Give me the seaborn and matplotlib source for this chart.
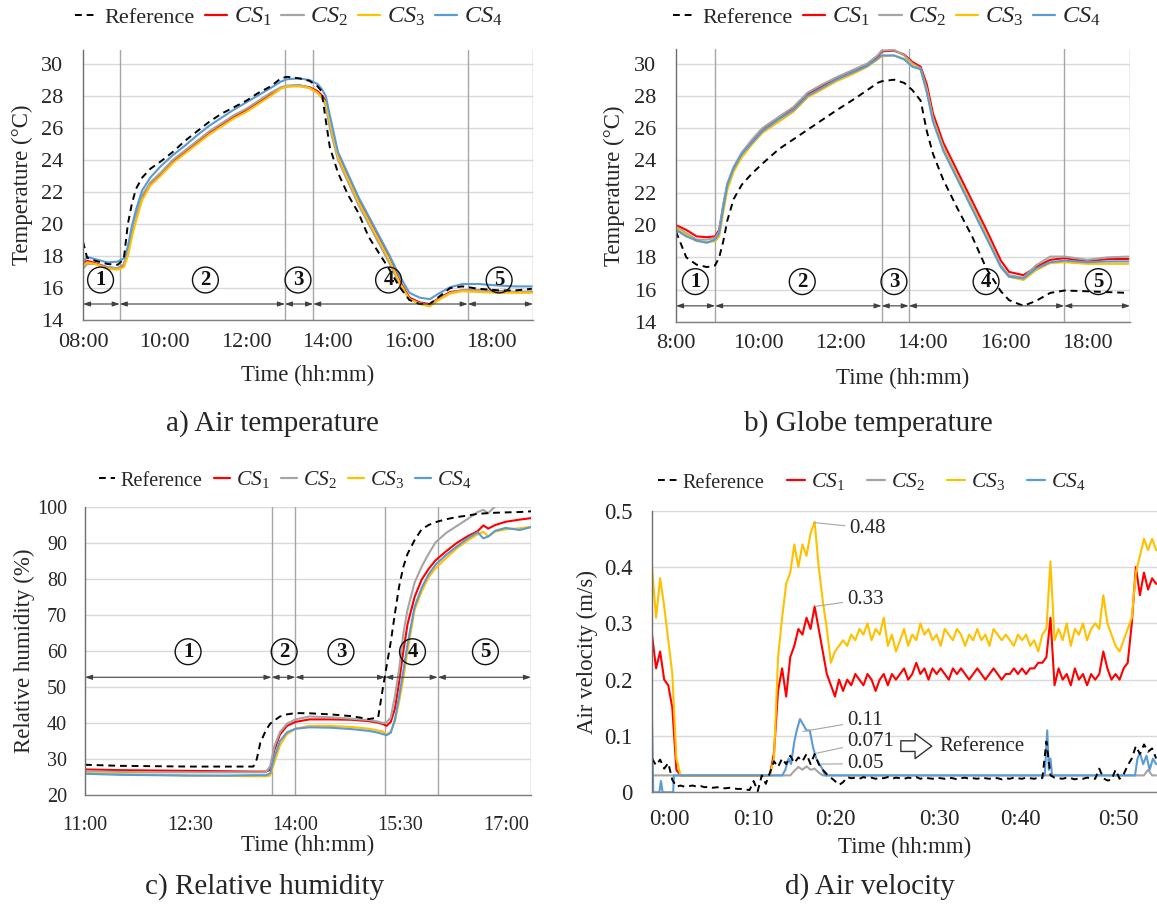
import numpy as np
import matplotlib
matplotlib.use('Agg')
import matplotlib.pyplot as plt
import seaborn as sns
from matplotlib.lines import Line2D

# ---------------- a) Air temperature (time in hours, degC)
a_time = [8.0, 8.1, 8.3, 8.6, 8.85, 9.0, 9.1, 9.2, 9.3, 9.45,
          9.65, 9.9, 10.2, 10.5, 10.8, 11.1, 11.4, 11.7, 12.0, 12.3,
          12.6, 12.85, 13.0, 13.3, 13.55, 13.75, 13.85, 13.95, 14.05, 14.25,
          14.5, 14.75, 15.0, 15.25, 15.5, 15.75, 16.0, 16.25, 16.5, 16.75,
          17.0, 17.3, 17.7, 18.2, 18.6, 19.0]
a_ref = [18.9, 17.9, 17.7, 17.5, 17.45, 17.8, 20.0, 21.3, 22.2, 22.9,
         23.45, 23.9, 24.5, 25.2, 25.8, 26.4, 26.9, 27.3, 27.7, 28.2,
         28.6, 29.1, 29.2, 29.1, 28.95, 28.6, 28.3, 26.5, 24.8, 23.2,
         21.8, 20.7, 19.2, 18.2, 17.2, 16.1, 15.25, 15.0, 15.0, 15.5,
         16.0, 16.1, 15.95, 15.85, 15.85, 15.95]
a_cs1 = [17.5, 17.7, 17.55, 17.3, 17.2, 17.4, 18.2, 19.4, 20.4, 21.7,
         22.5, 23.1, 23.9, 24.5, 25.1, 25.7, 26.2, 26.7, 27.1, 27.6,
         28.1, 28.5, 28.6, 28.65, 28.55, 28.3, 28.05, 27.7, 26.5, 24.3,
         22.9, 21.5, 20.3, 19.1, 17.9, 16.5, 15.4, 15.1, 15.0, 15.4,
         15.75, 15.85, 15.85, 15.8, 15.75, 15.75]
a_cs2 = [17.2, 17.5, 17.5, 17.3, 17.25, 17.5, 18.4, 19.6, 20.6, 21.8,
         22.6, 23.2, 24.0, 24.6, 25.2, 25.8, 26.3, 26.8, 27.2, 27.7,
         28.2, 28.55, 28.65, 28.7, 28.5, 28.2, 27.9, 27.4, 26.0, 24.0,
         22.6, 21.2, 20.0, 18.8, 17.6, 16.3, 15.3, 15.05, 14.95, 15.35,
         15.7, 15.85, 15.85, 15.8, 15.75, 15.8]
a_cs3 = [17.4, 17.6, 17.5, 17.2, 17.15, 17.3, 18.0, 19.2, 20.2, 21.5,
         22.4, 23.0, 23.8, 24.4, 25.0, 25.6, 26.1, 26.6, 27.0, 27.5,
         28.0, 28.45, 28.6, 28.6, 28.5, 28.2, 27.9, 27.6, 26.4, 24.2,
         22.8, 21.4, 20.2, 19.0, 17.8, 16.4, 15.3, 15.0, 14.85, 15.3,
         15.65, 15.8, 15.75, 15.7, 15.7, 15.7]
a_cs4 = [17.6, 17.95, 17.8, 17.6, 17.65, 17.85, 18.6, 19.9, 20.9, 22.1,
         22.9, 23.6, 24.3, 24.9, 25.55, 26.15, 26.65, 27.15, 27.6, 28.05,
         28.5, 28.9, 29.05, 29.1, 29.0, 28.75, 28.45, 28.0, 26.8, 24.5,
         23.1, 21.7, 20.5, 19.3, 18.1, 16.8, 15.7, 15.4, 15.3, 15.7,
         16.05, 16.25, 16.25, 16.15, 16.1, 16.1]
a_phases = [8.0, 8.9, 12.95, 13.64, 17.43, 19.03]
a_num_x = [8.43, 11.0, 13.27, 15.49, 18.2]

# ---------------- b) Globe temperature
b_time = [8.0, 8.25, 8.5, 8.75, 8.95, 9.05, 9.15, 9.25, 9.4, 9.6,
          9.85, 10.1, 10.5, 10.85, 11.2, 11.55, 11.9, 12.3, 12.65, 12.9,
          13.0, 13.3, 13.55, 13.75, 13.95, 14.1, 14.25, 14.5, 14.85, 15.2,
          15.55, 15.9, 16.1, 16.45, 16.75, 17.1, 17.45, 18.0, 18.5, 19.0]
b_ref = [19.6, 18.0, 17.55, 17.4, 17.5, 18.0, 19.0, 20.3, 21.6, 22.5,
         23.2, 23.8, 24.7, 25.3, 25.9, 26.5, 27.1, 27.75, 28.35, 28.8,
         28.9, 29.0, 28.8, 28.35, 27.7, 25.8, 24.4, 22.8, 21.0, 19.3,
         17.3, 15.9, 15.35, 15.0, 15.3, 15.8, 15.95, 15.9, 15.85, 15.8]
b_cs1 = [20.0, 19.7, 19.3, 19.25, 19.3, 19.7, 21.2, 22.5, 23.5, 24.4,
         25.2, 25.95, 26.65, 27.25, 28.1, 28.6, 29.1, 29.55, 29.95, 30.4,
         30.75, 30.8, 30.55, 30.1, 29.8, 28.7, 26.9, 25.1, 23.3, 21.5,
         19.7, 17.8, 17.1, 16.9, 17.4, 17.85, 17.95, 17.75, 17.9, 17.9]
b_cs2 = [19.9, 19.5, 19.1, 19.1, 19.2, 19.6, 21.3, 22.6, 23.6, 24.5,
         25.3, 26.0, 26.7, 27.3, 28.2, 28.7, 29.15, 29.6, 30.0, 30.5,
         30.8, 30.85, 30.5, 30.0, 29.7, 28.4, 26.6, 24.8, 23.0, 21.2,
         19.4, 17.5, 16.9, 16.75, 17.5, 18.05, 18.05, 17.85, 18.0, 18.05]
b_cs3 = [19.8, 19.4, 19.0, 18.95, 19.0, 19.3, 20.8, 22.2, 23.3, 24.2,
         25.0, 25.7, 26.4, 27.0, 27.9, 28.4, 28.9, 29.35, 29.8, 30.25,
         30.45, 30.5, 30.3, 29.9, 29.6, 28.3, 26.5, 24.7, 22.9, 21.1,
         19.3, 17.4, 16.8, 16.6, 17.2, 17.65, 17.7, 17.6, 17.6, 17.6]
b_cs4 = [19.7, 19.3, 19.05, 18.9, 19.1, 19.5, 21.1, 22.5, 23.5, 24.4,
         25.1, 25.8, 26.55, 27.1, 28.0, 28.5, 29.0, 29.45, 29.85, 30.3,
         30.5, 30.5, 30.25, 29.8, 29.65, 28.2, 26.4, 24.6, 22.8, 21.0,
         19.2, 17.4, 16.8, 16.7, 17.3, 17.7, 17.8, 17.7, 17.75, 17.75]
b_phases = [8.0, 8.95, 13.0, 13.66, 17.44, 19.04]
b_num_x = [8.47, 11.07, 13.3, 15.54, 18.27]

# ---------------- c) Relative humidity
c_time = [11.0, 11.5, 12.0, 12.5, 13.0, 13.4, 13.45, 13.5, 13.58, 13.64,
          13.7, 13.78, 13.88, 14.0, 14.2, 14.5, 14.8, 15.05, 15.18, 15.25,
          15.3, 15.36, 15.42, 15.48, 15.54, 15.6, 15.7, 15.8, 15.9, 16.0,
          16.15, 16.3, 16.45, 16.6, 16.68, 16.75, 16.85, 17.0, 17.2, 17.36]
c_ref = [28.4, 28.1, 28.0, 27.9, 27.9, 27.9, 30.0, 34.5, 38.0, 39.8,
         40.7, 41.8, 42.4, 42.75, 42.7, 42.4, 41.9, 41.1, 41.5, 50.0,
         55.7, 62.5, 70.5, 78.0, 83.4, 87.0, 90.8, 93.8, 95.0, 95.8,
         96.6, 97.2, 97.6, 98.1, 98.2, 98.3, 98.4, 98.5, 98.6, 98.8]
c_cs1 = [27.1, 26.9, 26.8, 26.7, 26.6, 26.5, 26.5, 26.5, 26.5, 27.0,
         32.5, 36.8, 39.2, 40.3, 41.0, 41.0, 40.9, 40.5, 40.1, 39.7,
         39.2, 40.3, 44.0, 51.5, 60.0, 67.5, 75.0, 79.8, 82.8, 85.2,
         87.7, 90.0, 91.8, 93.3, 94.9, 94.0, 95.0, 95.9, 96.5, 96.9]
c_cs2 = [26.6, 26.4, 26.3, 26.3, 26.3, 26.3, 26.3, 26.3, 26.3, 28.0,
         33.5, 37.5, 39.8, 41.0, 41.8, 41.6, 41.2, 40.8, 40.4, 40.0,
         40.2, 41.5, 47.5, 55.0, 64.9, 71.5, 79.0, 83.4, 87.0, 90.2,
         92.8, 94.7, 96.6, 98.6, 99.2, 98.3, 100.2, 100.5, 100.5, 100.5]
c_cs3 = [26.1, 25.8, 25.6, 25.4, 25.3, 25.2, 25.2, 25.2, 25.2, 25.4,
         29.0, 33.8, 36.9, 38.4, 39.2, 39.2, 38.9, 38.4, 37.9, 37.6,
         36.8, 37.6, 40.5, 46.0, 52.5, 60.0, 71.4, 76.5, 80.5, 83.0,
         85.8, 88.5, 90.6, 92.4, 93.1, 91.8, 93.2, 93.8, 94.1, 94.5]
c_cs4 = [25.9, 25.6, 25.5, 25.4, 25.4, 25.5, 25.5, 25.5, 25.5, 26.0,
         30.5, 35.0, 37.4, 38.4, 38.8, 38.7, 38.3, 37.8, 37.3, 36.9,
         36.6, 37.3, 41.0, 47.5, 54.5, 62.0, 72.3, 77.5, 81.3, 84.0,
         86.7, 89.0, 91.2, 93.0, 91.3, 91.8, 93.4, 94.2, 93.6, 94.4]
c_phases = [11.0, 13.66, 14.0, 15.28, 16.03, 17.36]
c_num_x = [12.47, 13.84, 14.65, 15.67, 16.71]

# ---------------- d) Air velocity (minutes, m/s), sampled every 30 s
d_minutes = np.arange(0, 62.01, 0.5)
d_ref = [0.060, 0.048, 0.058, 0.042, 0.052, 0.022, 0.010, 0.012, 0.010, 0.011,
         0.012, 0.010, 0.011, 0.009, 0.010, 0.008, 0.009, 0.008, 0.007, 0.008,
         0.007, 0.006, 0.006, 0.005, 0.004, 0.020, 0.002, 0.030, 0.015, 0.035,
         0.055, 0.045, 0.060, 0.050, 0.065, 0.052, 0.062, 0.055, 0.068, 0.050,
         0.068, 0.050, 0.040, 0.032, 0.026, 0.020, 0.013, 0.018, 0.027, 0.025,
         0.026, 0.024, 0.027, 0.025, 0.026, 0.024, 0.026, 0.025, 0.027, 0.024,
         0.026, 0.025, 0.024, 0.026, 0.025, 0.027, 0.024, 0.026, 0.025, 0.024,
         0.026, 0.025, 0.024, 0.026, 0.025, 0.023, 0.025, 0.026, 0.024, 0.025,
         0.024, 0.026, 0.025, 0.024, 0.026, 0.025, 0.023, 0.025, 0.024, 0.026,
         0.025, 0.024, 0.026, 0.025, 0.024, 0.026, 0.025, 0.090, 0.030, 0.026,
         0.025, 0.024, 0.026, 0.025, 0.023, 0.025, 0.024, 0.026, 0.025, 0.024,
         0.042, 0.025, 0.021, 0.022, 0.040, 0.024, 0.032, 0.048, 0.060, 0.082,
         0.068, 0.085, 0.072, 0.078, 0.060]
d_cs1 = [0.28, 0.22, 0.25, 0.20, 0.19, 0.15, 0.04, 0.03, 0.03, 0.03,
         0.03, 0.03, 0.03, 0.03, 0.03, 0.03, 0.03, 0.03, 0.03, 0.03,
         0.03, 0.03, 0.03, 0.03, 0.03, 0.03, 0.03, 0.03, 0.03, 0.03,
         0.07, 0.18, 0.22, 0.17, 0.24, 0.26, 0.29, 0.28, 0.31, 0.29,
         0.33, 0.29, 0.25, 0.21, 0.19, 0.17, 0.20, 0.18, 0.20, 0.19,
         0.21, 0.20, 0.19, 0.21, 0.20, 0.18, 0.20, 0.21, 0.19, 0.21,
         0.20, 0.21, 0.22, 0.20, 0.21, 0.23, 0.21, 0.22, 0.20, 0.22,
         0.21, 0.22, 0.21, 0.20, 0.22, 0.21, 0.22, 0.21, 0.20, 0.21,
         0.22, 0.21, 0.20, 0.21, 0.22, 0.21, 0.20, 0.21, 0.21, 0.22,
         0.21, 0.22, 0.21, 0.22, 0.22, 0.23, 0.23, 0.24, 0.31, 0.19,
         0.22, 0.20, 0.21, 0.19, 0.22, 0.20, 0.21, 0.19, 0.21, 0.20,
         0.21, 0.25, 0.22, 0.20, 0.21, 0.20, 0.22, 0.23, 0.30, 0.40,
         0.35, 0.39, 0.36, 0.38, 0.37]
d_cs3 = [0.40, 0.31, 0.38, 0.33, 0.27, 0.21, 0.06, 0.03, 0.03, 0.03,
         0.03, 0.03, 0.03, 0.03, 0.03, 0.03, 0.03, 0.03, 0.03, 0.03,
         0.03, 0.03, 0.03, 0.03, 0.03, 0.03, 0.03, 0.03, 0.03, 0.03,
         0.06, 0.24, 0.31, 0.37, 0.39, 0.44, 0.40, 0.44, 0.42, 0.46,
         0.48, 0.40, 0.34, 0.29, 0.23, 0.25, 0.26, 0.27, 0.26, 0.28,
         0.27, 0.29, 0.28, 0.30, 0.27, 0.29, 0.28, 0.31, 0.26, 0.28,
         0.25, 0.27, 0.29, 0.26, 0.28, 0.27, 0.30, 0.28, 0.29, 0.27,
         0.28, 0.26, 0.29, 0.28, 0.27, 0.29, 0.28, 0.26, 0.28, 0.27,
         0.29, 0.27, 0.28, 0.26, 0.29, 0.28, 0.27, 0.28, 0.27, 0.26,
         0.28, 0.27, 0.28, 0.26, 0.27, 0.25, 0.28, 0.29, 0.41, 0.27,
         0.29, 0.27, 0.30, 0.26, 0.29, 0.28, 0.30, 0.27, 0.29, 0.30,
         0.29, 0.35, 0.30, 0.28, 0.26, 0.25, 0.27, 0.29, 0.31, 0.39,
         0.42, 0.45, 0.43, 0.45, 0.43]
# CS2 and CS4 sit on the 0.03 floor most of the time: breakpoints only
d_cs2_min = [0, 2.7, 17.0, 17.5, 18.0, 18.5, 19.0, 19.5, 20.0, 20.5, 21.0,
             60.5, 61.0, 61.5, 62.0]
d_cs2 = [0.03, 0.03, 0.03, 0.038, 0.045, 0.040, 0.046, 0.040, 0.042, 0.035, 0.03,
         0.03, 0.04, 0.03, 0.03]
d_cs4_min = [0, 0.15, 0.5, 0.9, 1.1, 1.3, 2.6, 2.7,
             16.0, 16.4, 16.8, 17.1, 17.5, 17.8, 18.2, 18.6, 19.0, 19.4, 19.8,
             20.2, 20.6, 21.0, 21.3,
             48.3, 48.6, 48.8, 49.0, 49.2, 49.4,
             49.6, 59.4, 59.7, 60.0, 60.4, 60.8, 61.2, 61.6, 62.0]
d_cs4 = [0.13, 0.00, 0.00, 0.00, 0.02, 0.00, 0.00, 0.03,
         0.03, 0.04, 0.06, 0.05, 0.09, 0.11, 0.13, 0.12, 0.11, 0.11, 0.08,
         0.06, 0.05, 0.04, 0.03,
         0.03, 0.11, 0.04, 0.06, 0.03, 0.03,
         0.03, 0.03, 0.06, 0.07, 0.05, 0.065, 0.04, 0.06, 0.05]

COLORS = {'CS1': '#FF0000', 'CS2': '#A5A5A5', 'CS3': '#FFC000', 'CS4': '#5B9BD5'}
GRID = '#D9D9D9'
EDGE = '#A6A6A6'
AXIS = '#7F7F7F'
DASH = (0, (3.5, 2.5))

sns.set_theme(style='white')
plt.rcParams['font.family'] = ['Liberation Serif', 'DejaVu Serif']
plt.rcParams['mathtext.fontset'] = 'custom'
plt.rcParams['mathtext.rm'] = 'Liberation Serif'
plt.rcParams['mathtext.it'] = 'Liberation Serif:italic'

W, H = 1157, 908
fig = plt.figure(figsize=(W / 100, H / 100), dpi=100)


def px_axes(left, right, top, bottom):
    return fig.add_axes([left / W, 1 - bottom / H, (right - left) / W, (bottom - top) / H])


def draw_lines(ax, ref, cs):
    # cs: list of (x, y, name)
    for x, y, name in cs:
        sns.lineplot(x=x, y=y, ax=ax, color=COLORS[name], lw=1.5, estimator=None, sort=False)
    x, y = ref
    sns.lineplot(x=x, y=y, ax=ax, color='black', lw=1.4, linestyle=DASH, estimator=None, sort=False)


def add_legend(xc, yc, ref_size, cs_size, handlelength, colspace):
    handles = [Line2D([], [], color='black', lw=1.4, ls=DASH)]
    handles += [Line2D([], [], color=COLORS[k], lw=1.6) for k in ['CS1', 'CS2', 'CS3', 'CS4']]
    labels = ['Reference', '$CS_1$', '$CS_2$', '$CS_3$', '$CS_4$']
    leg = fig.legend(handles, labels, loc='center', bbox_to_anchor=(xc / W, 1 - yc / H),
                     ncol=5, frameon=False, fontsize=ref_size, handlelength=handlelength,
                     handletextpad=0.3, columnspacing=colspace)
    for t in leg.get_texts()[1:]:
        t.set_fontsize(cs_size)


def phase_marks(ax, phases, y_arrow, num_x, y_num):
    for x0, x1 in zip(phases[:-1], phases[1:]):
        ax.annotate('', xy=(x1, y_arrow), xytext=(x0, y_arrow),
                    arrowprops=dict(arrowstyle='<|-|>,head_length=0.35,head_width=0.12',
                                    color='#404040', lw=0.8, shrinkA=0, shrinkB=0))
    for x in phases[1:]:
        ax.axvline(x, color=EDGE, lw=1, zorder=1)
    for i, x in enumerate(num_x):
        ax.text(x, y_num, str(i + 1), ha='center', va='center', fontsize=15,
                fontweight='bold', color='#111111',
                bbox=dict(boxstyle='circle,pad=0.14', fc='none', ec='#111111', lw=1.0))


def style_common(ax):
    ax.set_xlabel('')
    ax.set_ylabel('')
    for s in ['top', 'right']:
        ax.spines[s].set_visible(False)
    ax.spines['left'].set_color('#6E6E6E')
    ax.spines['bottom'].set_color(AXIS)
    for s in ['left', 'bottom']:
        ax.spines[s].set_linewidth(1)
    ax.grid(axis='y', color=GRID, lw=1)
    ax.grid(axis='x', visible=False)
    ax.set_axisbelow(True)


def temp_panel(ax, t, ref, s1, s2, s3, s4, phases, num_x, xlabels):
    draw_lines(ax, (t, ref), [(t, s1, 'CS1'), (t, s2, 'CS2'), (t, s3, 'CS3'), (t, s4, 'CS4')])
    style_common(ax)
    ax.set_xlim(phases[0], phases[-1])
    ax.set_ylim(14, 30.9)
    ax.set_yticks(range(14, 31, 2))
    ax.set_xticks([8, 10, 12, 14, 16, 18])
    ax.set_xticklabels(xlabels)
    ax.tick_params(axis='x', direction='in', length=5, width=1, color=AXIS, pad=9, labelsize=16)
    ax.tick_params(axis='y', direction='out', length=4, width=1, color=AXIS, pad=10, labelsize=16)
    phase_marks(ax, phases, 15.0, num_x, 16.5)
    ax.set_xlabel('Time (hh:mm)', fontsize=16.5)
    ax.set_ylabel('Temperature (°C)', fontsize=16.5)
    ax.xaxis.set_label_coords(0.5, -0.167)


# ---- a
ax_a = px_axes(83, 533, 49.6, 320)
temp_panel(ax_a, a_time, a_ref, a_cs1, a_cs2, a_cs3, a_cs4, a_phases, a_num_x,
           ['08:00', '10:00', '12:00', '14:00', '16:00', '18:00'])
ax_a.yaxis.set_label_coords(-0.111, 0.5)
add_legend(289, 17, 16, 17.5, 1.0, 0.45)

# ---- b
ax_b = px_axes(676, 1130, 49, 322)
temp_panel(ax_b, b_time, b_ref, b_cs1, b_cs2, b_cs3, b_cs4, b_phases, b_num_x,
           ['8:00', '10:00', '12:00', '14:00', '16:00', '18:00'])
ax_b.yaxis.set_label_coords(-0.112, 0.5)
add_legend(887, 17, 16, 17.5, 1.0, 0.45)

# ---- c
ax_c = px_axes(85, 531, 507, 795)
draw_lines(ax_c, (c_time, c_ref), [(c_time, c_cs1, 'CS1'), (c_time, c_cs2, 'CS2'),
                                  (c_time, c_cs3, 'CS3'), (c_time, c_cs4, 'CS4')])
style_common(ax_c)
ax_c.set_xlim(c_phases[0], c_phases[-1])
ax_c.set_ylim(20, 100)
ax_c.set_yticks(range(20, 101, 10))
ax_c.set_xticks([11, 12.5, 14, 15.5, 17])
ax_c.set_xticklabels(['11:00', '12:30', '14:00', '15:30', '17:00'])
ax_c.tick_params(axis='both', direction='out', length=5, width=1, color=AXIS, labelsize=14.5)
ax_c.tick_params(axis='x', pad=10)
ax_c.tick_params(axis='y', pad=8)
phase_marks(ax_c, c_phases, 52.7, c_num_x, 59.8)
ax_c.set_xlabel('Time (hh:mm)', fontsize=16.5)
ax_c.set_ylabel('Relative humidity (%)', fontsize=16.5)
ax_c.xaxis.set_label_coords(0.5, -0.139)
ax_c.yaxis.set_label_coords(-0.112, 0.5)
add_legend(285, 480, 14.5, 15.5, 0.8, 0.55)

# ---- d
ax_d = px_axes(652, 1157, 510.7, 792.3)
draw_lines(ax_d, (d_minutes, d_ref), [(d_minutes, d_cs1, 'CS1'), (d_cs2_min, d_cs2, 'CS2'),
                                      (d_minutes, d_cs3, 'CS3'), (d_cs4_min, d_cs4, 'CS4')])
style_common(ax_d)
ax_d.set_xlim(0, 62.1)
ax_d.set_ylim(0, 0.5)
ax_d.set_yticks([0, 0.1, 0.2, 0.3, 0.4, 0.5])
ax_d.set_yticklabels(['0', '0.1', '0.2', '0.3', '0.4', '0.5'])
ax_d.set_xticks([2.1, 12.5, 22.5, 35.3, 45.3, 57.4])
ax_d.set_xticklabels(['0:00', '0:10', '0:20', '0:30', '0:40', '0:50'])
ax_d.set_xticks(range(0, 61, 10), minor=True)
ax_d.tick_params(axis='x', which='major', length=0, pad=12, labelsize=16.5)
ax_d.tick_params(axis='x', which='minor', direction='out', length=5, width=1, color=AXIS)
ax_d.tick_params(axis='y', direction='out', length=5, width=1, color=AXIS, pad=9, labelsize=16.5)
ax_d.set_xlabel('Time (hh:mm)', fontsize=16.5)
ax_d.set_ylabel('Air velocity (m/s)', fontsize=16.5)
ax_d.xaxis.set_label_coords(0.5, -0.158)
ax_d.yaxis.set_label_coords(-0.107, 0.5)

notes = [('0.48', (19.9, 0.479), (24.3, 0.469)),
         ('0.33', (20.1, 0.33), (24.0, 0.343)),
         ('0.11', (18.55, 0.108), (24.0, 0.127)),
         ('0.071', (20.1, 0.069), (24.0, 0.09)),
         ('0.05', (20.8, 0.05), (24.0, 0.051))]
for txt, xy, xytext in notes:
    ax_d.annotate(txt, xy=xy, xytext=xytext, ha='left', va='center', fontsize=15,
                  arrowprops=dict(arrowstyle='-', color=EDGE, lw=0.8, shrinkA=1, shrinkB=0))
ax_d.annotate('', xy=(34.4, 0.082), xytext=(30.6, 0.082),
              arrowprops=dict(arrowstyle='simple,head_length=0.5,head_width=0.75,tail_width=0.32',
                              fc='white', ec='#333333', lw=1, mutation_scale=24,
                              shrinkA=0, shrinkB=0))
ax_d.text(35.3, 0.082, 'Reference', ha='left', va='center', fontsize=15)
add_legend(872, 482, 14.5, 15.5, 0.9, 1.1)

# captions
fig.text(272 / W, 1 - 424 / H, 'a) Air temperature', ha='center', va='center', fontsize=21)
fig.text(868 / W, 1 - 424 / H, 'b) Globe temperature', ha='center', va='center', fontsize=21)
fig.text(265 / W, 1 - 887 / H, 'c) Relative humidity', ha='center', va='center', fontsize=21)
fig.text(870 / W, 1 - 887 / H, 'd) Air velocity', ha='center', va='center', fontsize=21)

fig.savefig('out.png', dpi=100)
